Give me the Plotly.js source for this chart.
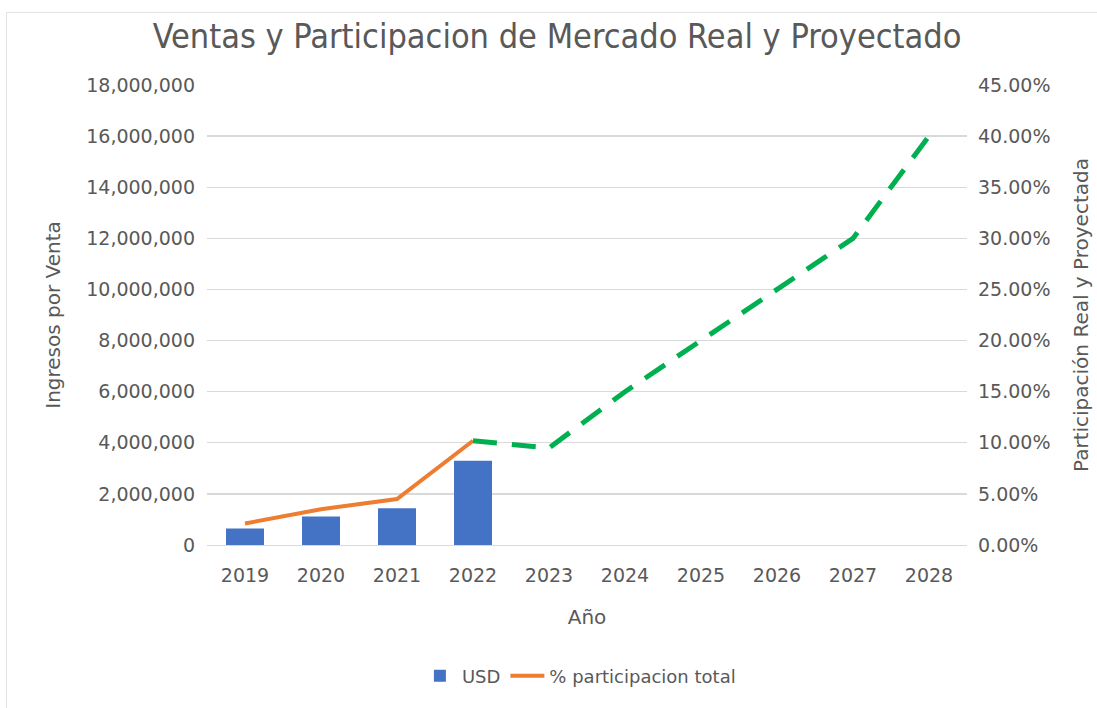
<!DOCTYPE html>
<html>
<head>
<meta charset="utf-8">
<script src="https://cdn.plot.ly/plotly-3.0.1.min.js"></script>
<style>
html,body{margin:0;padding:0;background:#fff;overflow:hidden;}
#frame{position:absolute;left:6px;top:12px;width:1200px;height:800px;border:1.5px solid #e3e3e3;box-sizing:border-box;}
#chart{position:absolute;left:0;top:0;width:1097px;height:708px;}
</style>
</head>
<body>
<div id="frame"></div>
<div id="chart"></div>
<script>
const years = ['2019','2020','2021','2022','2023','2024','2025','2026','2027','2028'];
const usdYears = ['2019','2020','2021','2022'];
const usdValues = [650000, 1120000, 1440000, 3300000];
const realYears = ['2019','2020','2021','2022'];
const realShare = [0.021, 0.035, 0.045, 0.102];
const projYears = ['2022','2023','2024','2025','2026','2027','2028'];
const projShare = [0.102, 0.095, 0.15, 0.20, 0.25, 0.30, 0.40];

const txt = '#595959';
const fam = '"DejaVu Sans", "Open Sans", sans-serif';
const traces = [
  {type:'bar', name:'USD', x:usdYears, y:usdValues, marker:{color:'#4472C4'}, yaxis:'y'},
  {type:'scatter', mode:'lines', name:'% participacion total', x:realYears, y:realShare, yaxis:'y2',
   line:{color:'#ED7D31', width:4}},
  {type:'scatter', mode:'lines', name:'Proyectado', x:projYears, y:projShare, yaxis:'y2', showlegend:false,
   line:{color:'#00B050', width:5, dash:'24px,15px'}}
];
const layout = {
  width:1097, height:708,
  paper_bgcolor:'rgba(0,0,0,0)', plot_bgcolor:'rgba(0,0,0,0)',
  margin:{l:207, r:130, t:85, b:163},
  font:{family:fam, size:19, color:txt},
  title:{text:'Ventas y Participacion de Mercado Real y Proyectado', x:0.5078, xref:'container', xanchor:'center',
         y:0.949, yanchor:'middle',
         font:{family:'"Liberation Sans Narrow", "DejaVu Sans Condensed", sans-serif', size:34, color:txt}},
  bargap:0.5,
  xaxis:{type:'category', categoryorder:'array', categoryarray:years, range:[-0.5,9.5],
         showgrid:false, zeroline:false, showline:false, ticks:'', ticklabelstandoff:17,
         tickfont:{family:fam, size:19, color:txt},
         title:{text:'Año', font:{family:fam, size:20, color:txt}, standoff:24}},
  yaxis:{range:[0,18000000], dtick:2000000, tickformat:',d', gridcolor:'#d9d9d9', gridwidth:1.3,
         zeroline:true, zerolinecolor:'#d9d9d9', showline:false, ticks:'', ticklabelstandoff:11,
         tickfont:{family:fam, size:19, color:txt},
         title:{text:'Ingresos por Venta', font:{family:fam, size:20, color:txt}, standoff:20}},
  yaxis2:{overlaying:'y', side:'right', range:[0,0.45], dtick:0.05, tickformat:'.2%', showgrid:false,
          zeroline:false, showline:false, ticks:'', ticklabelstandoff:10,
          tickfont:{family:fam, size:19, color:txt},
          title:{text:'Participación Real y Proyectada', font:{family:fam, size:20, color:txt}, standoff:24}},
  legend:{orientation:'h', x:0.49, xanchor:'center', y:-0.285, yanchor:'middle',
          font:{family:fam, size:18, color:txt}, itemwidth:34, traceorder:'normal'},
  showlegend:true
};
Plotly.newPlot('chart', traces, layout, {displayModeBar:false, staticPlot:true});
</script>
</body>
</html>
